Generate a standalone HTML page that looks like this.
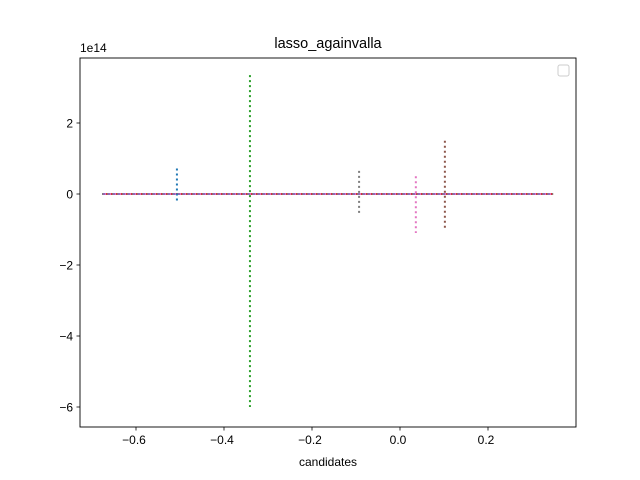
<!DOCTYPE html>
<html><head><meta charset="utf-8"><style>body{margin:0;background:#fff}svg{display:block;font-family:"Liberation Sans","DejaVu Sans",sans-serif}</style></head>
<body>
<svg id="chart" width="640" height="480" xmlns="http://www.w3.org/2000/svg">
<rect width="640" height="480" fill="#fff"/>
<text x="328" y="48" font-size="14.5" text-anchor="middle">lasso_againvalla</text>
<g id="plot"></g>
<rect x="80" y="58" width="496" height="369" fill="none" stroke="#000" stroke-width="0.9"/>
<rect x="558" y="65" width="11" height="11" rx="2" fill="#fff" stroke="#ccc"/>
<text x="80" y="52" font-size="12">1e14</text>
<text x="328" y="466" font-size="12" text-anchor="middle">candidates</text>
<g id="axes"></g>
</svg>
<script>
const xTicks=[-0.6,-0.4,-0.2,0.0,0.2];
const xTickLabels=["−0.6","−0.4","−0.2","0.0","0.2"];
const yTicks=[-6,-4,-2,0,2];
const yTickLabels=["−6","−4","−2","0","2"];
const spikeX=[-0.507,-0.341,-0.093,0.036,0.102];
const spikeTop=[0.72,3.35,0.65,0.5,1.5];
const spikeBottom=[-0.22,-6.0,-0.6,-1.1,-1.0];
const spikeColors=["#1f77b4","#2ca02c","#7f7f7f","#e377c2","#8c564b"];
const baseRange=[-0.677,0.348];
const X=v=>400+v*440, Y=v=>194-v*35.5;
const NS="http://www.w3.org/2000/svg";
const plot=document.getElementById('plot'), axes=document.getElementById('axes');
function mk(tag,attrs,parent){const e=document.createElementNS(NS,tag);for(const k in attrs)e.setAttribute(k,attrs[k]);parent.appendChild(e);return e;}
const baseCols=["#8c564b","#7f7f7f","#d62728","#e377c2","#9467bd"];
baseCols.forEach((c,i)=>{
  const l=mk('line',{x1:X(baseRange[0]),x2:X(baseRange[1]),y1:Y(0),y2:Y(0),stroke:c,'stroke-width':2,'stroke-dasharray':'2 3','stroke-dashoffset':i},plot);
  
  
});
spikeX.forEach((x,i)=>{
  const l=mk('line',{x1:X(x),x2:X(x),y1:Y(spikeTop[i]),y2:Y(spikeBottom[i]),stroke:spikeColors[i],'stroke-width':2,'stroke-dasharray':'2 3'},plot);
  
  
});
xTicks.forEach((v,i)=>{
  const t=mk('line',{x1:X(v),x2:X(v),y1:427,y2:430.5,stroke:'#000','stroke-width':0.8},axes);
  
  
  const s=mk('text',{x:X(v)-2,y:444,'font-size':12,'text-anchor':'middle'},axes);s.textContent=xTickLabels[i];
  
  
});
yTicks.forEach((v,i)=>{
  const t=mk('line',{x1:76.5,x2:80,y1:Y(v),y2:Y(v),stroke:'#000','stroke-width':0.8},axes);
  
  
  const s=mk('text',{x:73,y:Y(v)+4.5,'font-size':12,'text-anchor':'end'},axes);s.textContent=yTickLabels[i];
  
  
});
</script>
</body></html>
